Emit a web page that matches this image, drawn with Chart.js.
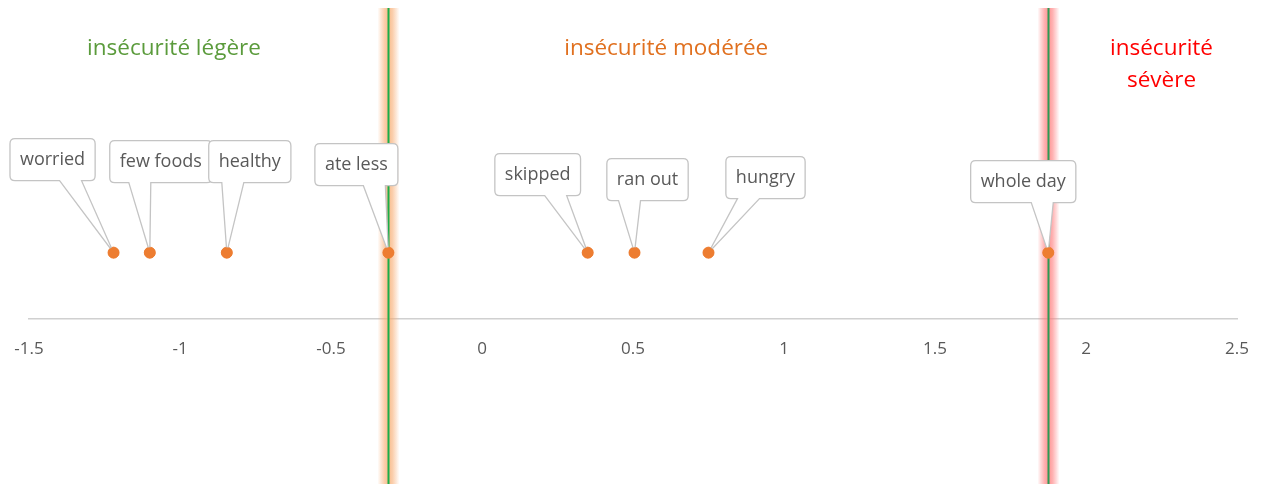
<!DOCTYPE html>
<html><head><meta charset="utf-8">
<script src="https://cdn.jsdelivr.net/npm/chart.js@4/dist/chart.umd.min.js"></script>
<style>html,body{margin:0;padding:0;background:#fff;}canvas{display:block;}</style>
</head><body>
<canvas id="c" width="1264" height="484"></canvas>
<script>
// ---- data ----
const itemLabels = ['worried','few foods','healthy','ate less','skipped','ran out','hungry','whole day'];
const itemSeverity = [-1.22, -1.10, -0.845, -0.31, 0.35, 0.505, 0.75, 1.875];
const itemRow = [1, 1, 1, 1, 1, 1, 1, 1];
const thresholds = [-0.31, 1.875];
const bandNames = [['insécurité légère'], ['insécurité modérée'], ['insécurité', 'sévère']];
const bandCenters = [-1.02, 0.61, 2.25];
const xMin = -1.5, xMax = 2.5, xStep = 0.5;

// ---- styles (pixel offsets of callout boxes relative to their point) ----
const calloutBoxOffset = [[-61,-93],[11,-91],[23,-91],[-32,-88],[-50,-78],[13,-73],[57,-75],[-25,-71]];
const calloutTailOffset = [-43,-10,6,-14,-32,-5,40,-6];
const bandColors = ['#5b9b3c','#e0701f','#ff0000'];
const glowColors = ['rgba(247,170,110,', 'rgba(255,120,120,'];

const FONT = '"Open Sans", "Noto Sans", sans-serif';

const decor = {
  id: 'decor',
  beforeDatasetsDraw(chart) {
    const ctx = chart.ctx, xs = chart.scales.x;
    ctx.save();
    thresholds.forEach((t, i) => {
      const px = Math.round(xs.getPixelForValue(t)) + 0.5;
      const g = ctx.createLinearGradient(px - 11, 0, px + 11, 0);
      g.addColorStop(0, glowColors[i] + '0)');
      g.addColorStop(0.3, glowColors[i] + '0.55)');
      g.addColorStop(0.5, glowColors[i] + '0.8)');
      g.addColorStop(0.7, glowColors[i] + '0.55)');
      g.addColorStop(1, glowColors[i] + '0)');
      ctx.fillStyle = g;
      ctx.fillRect(px - 11, 8, 22, chart.height - 8);
      ctx.strokeStyle = i === 0 ? '#1aad4a' : '#2e9a55';
      ctx.lineWidth = 2;
      ctx.beginPath();
      ctx.moveTo(px, 8);
      ctx.lineTo(px, chart.height);
      ctx.stroke();
    });
    ctx.font = '22.5px ' + FONT;
    ctx.textAlign = 'center';
    ctx.textBaseline = 'middle';
    bandNames.forEach((lines, i) => {
      ctx.fillStyle = bandColors[i];
      const px = xs.getPixelForValue(bandCenters[i]);
      lines.forEach((ln, j) => ctx.fillText(ln, px, 49 + j * 32));
    });
    ctx.restore();
  },
  afterDatasetsDraw(chart) {
    const ctx = chart.ctx;
    const meta = chart.getDatasetMeta(0);
    ctx.save();
    ctx.font = '18px ' + FONT;
    ctx.textAlign = 'center';
    ctx.textBaseline = 'middle';
    meta.data.forEach((pt, i) => {
      const px = pt.x, py = pt.y;
      const [dx, dy] = calloutBoxOffset[i];
      const tw = ctx.measureText(itemLabels[i]).width;
      const w = tw + 20, h = 42, r = 5;
      const cx = px + dx, cy = py + dy;
      const L = cx - w / 2, R = cx + w / 2, T = cy - h / 2, B = cy + h / 2;
      let tc = px + calloutTailOffset[i];
      const t1 = Math.max(L + r + 1, tc - 11), t2 = Math.min(R - r - 1, tc + 11);
      ctx.beginPath();
      ctx.moveTo(L + r, T);
      ctx.lineTo(R - r, T);
      ctx.quadraticCurveTo(R, T, R, T + r);
      ctx.lineTo(R, B - r);
      ctx.quadraticCurveTo(R, B, R - r, B);
      ctx.lineTo(t2, B);
      ctx.lineTo(px, py);
      ctx.lineTo(t1, B);
      ctx.lineTo(L + r, B);
      ctx.quadraticCurveTo(L, B, L, B - r);
      ctx.lineTo(L, T + r);
      ctx.quadraticCurveTo(L, T, L + r, T);
      ctx.closePath();
      ctx.fillStyle = '#ffffff';
      ctx.fill();
      ctx.strokeStyle = '#c4c4c4';
      ctx.lineWidth = 1.3;
      ctx.stroke();
      ctx.fillStyle = '#595959';
      ctx.fillText(itemLabels[i], cx, cy);
    });
    meta.data.forEach(pt => {
      ctx.beginPath();
      ctx.arc(pt.x, pt.y, 5.5, 0, Math.PI * 2);
      ctx.fillStyle = '#ed7d31';
      ctx.fill();
    });
    ctx.restore();
  }
};

new Chart(document.getElementById('c'), {
  type: 'scatter',
  data: {
    datasets: [{
      data: itemSeverity.map((v, i) => ({ x: v, y: itemRow[i] })),
      backgroundColor: '#ed7d31',
      borderColor: '#ed7d31',
      pointRadius: 5.5,
      pointHoverRadius: 5.5
    }]
  },
  options: {
    responsive: false,
    animation: false,
    events: [],
    layout: { padding: { top: 8, left: 29, right: 27, bottom: 105 } },
    plugins: { legend: { display: false }, tooltip: { enabled: false } },
    scales: {
      x: {
        type: 'linear', min: xMin, max: xMax,
        afterFit: s => { s.paddingLeft = 0; s.paddingRight = 0; },
        ticks: { stepSize: xStep, color: '#595959', font: { size: 17, family: FONT }, padding: 20, maxRotation: 0,
                 callback: v => String(v) },
        grid: { display: false, drawTicks: false },
        border: { display: true, color: '#d0d0d0', width: 1.5 }
      },
      y: { display: false, min: 0, max: 4.71 }
    }
  },
  plugins: [decor]
});
</script>
</body></html>
